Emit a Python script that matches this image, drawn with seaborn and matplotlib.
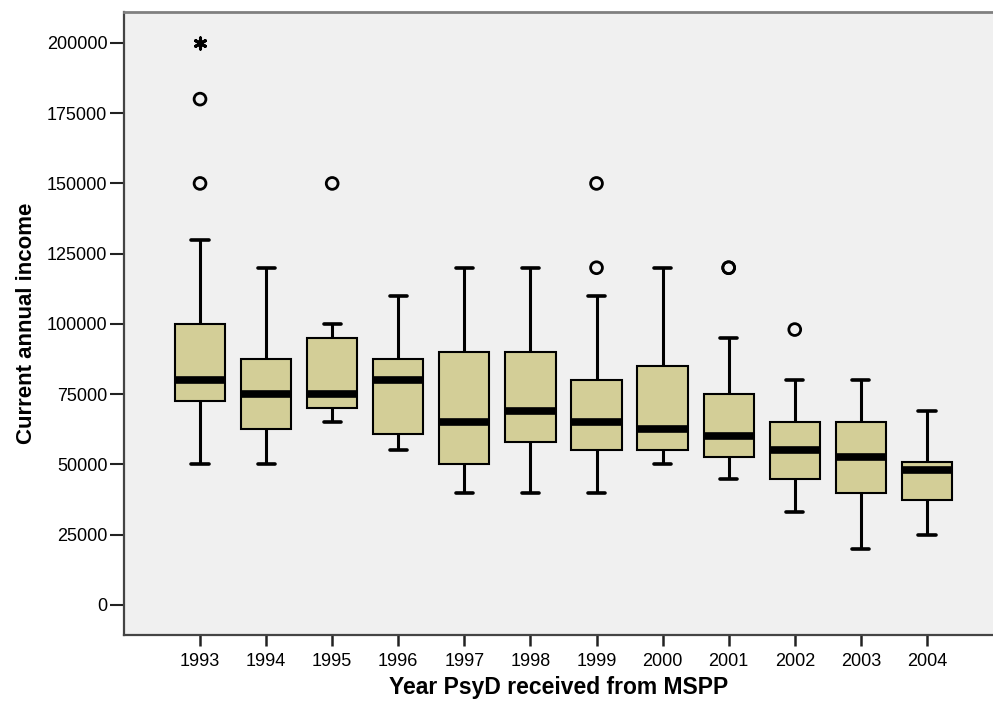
#!/usr/bin/env python3
# -*- coding: utf-8 -*-

"""
SPSS-style boxplot of current annual income by year the PsyD was received
"""

import matplotlib
matplotlib.use("Agg")
import matplotlib.pyplot as plt
import pandas as pd
import seaborn as sns

# five-number summaries, one entry per year
years = ["1993", "1994", "1995", "1996", "1997", "1998",
         "1999", "2000", "2001", "2002", "2003", "2004"]
whisker_low = [50000, 50000, 65000, 55000, 40000, 40000,
               40000, 50000, 45000, 33000, 20000, 25000]
q1 = [72500, 62500, 70000, 61000, 50000, 58000,
      55000, 55000, 52500, 45000, 40000, 37500]
medians = [80000, 75000, 75000, 80000, 65000, 69000,
           65000, 62500, 60000, 55000, 52500, 48000]
q3 = [100000, 87500, 95000, 87500, 90000, 90000,
      80000, 85000, 75000, 65000, 65000, 51000]
whisker_high = [130000, 120000, 100000, 110000, 120000, 120000,
                110000, 120000, 95000, 80000, 80000, 69000]

# outliers (circles) and extreme values (stars)
outlier_years = ["1993", "1993", "1995", "1999", "1999", "2001", "2001", "2002"]
outlier_values = [150000, 180000, 150000, 120000, 150000, 120000, 120000, 98000]
extreme_years = ["1993"]
extreme_values = [200000]

box_fill = "#D3CE97"
panel_bg = "#F0F0F0"

# long table: the five summary values per year reproduce the quartiles exactly
rows = []
for i, yr in enumerate(years):
    for v in (whisker_low[i], q1[i], medians[i], q3[i], whisker_high[i]):
        rows.append({"year": yr, "income": v})
df = pd.DataFrame(rows)

sns.set_style("white", {"axes.facecolor": panel_bg})
plt.rcParams["font.family"] = ["Liberation Sans", "DejaVu Sans"]
plt.rcParams["text.color"] = "black"
plt.rcParams["axes.labelcolor"] = "black"
plt.rcParams["xtick.labelcolor"] = "black"
plt.rcParams["ytick.labelcolor"] = "black"

fig = plt.figure(figsize=(9.93, 7.02), dpi=100)
ax = fig.add_axes([0.1249, 0.0954, 0.8751, 0.8875])

sns.boxplot(data=df, x="year", y="income", order=years, whis=(0, 100),
            color=box_fill, linecolor="black", linewidth=1.5, width=0.76,
            saturation=1, capwidths=0.26,
            medianprops=dict(linewidth=5.5, color="black", solid_capstyle="butt"),
            whiskerprops=dict(linewidth=2.2, color="black"),
            capprops=dict(linewidth=2.6, color="black"),
            ax=ax)

# hollow circles for outliers
n_before = len(ax.collections)
sns.stripplot(x=outlier_years, y=outlier_values, order=years, jitter=False,
              color="black", marker="o", size=8.5, linewidth=2,
              edgecolor="black", ax=ax)
for coll in ax.collections[n_before:]:
    coll.set_facecolor("none")
    coll.set_edgecolor("black")

# asterisk for extreme values
sns.stripplot(x=extreme_years, y=extreme_values, order=years, jitter=False,
              color="black", marker=(6, 2, 0), size=8, linewidth=2.2,
              edgecolor="black", ax=ax)

ax.set_xlim(-1.15, 12.0)
ax.set_ylim(-10700, 211000)
ax.set_yticks([0, 25000, 50000, 75000, 100000, 125000, 150000, 175000, 200000])
ax.set_yticklabels(["0", "25000", "50000", "75000", "100000", "125000",
                    "150000", "175000", "200000"])

ax.set_xlabel("Year PsyD received from MSPP", fontsize=16.5, fontweight="bold",
              labelpad=4)
ax.set_ylabel("Current annual income", fontsize=16, fontweight="bold",
              labelpad=7)

ax.tick_params(axis="y", direction="out", length=10, width=1.5,
               color="#222222", labelsize=13, pad=2, left=True)
ax.tick_params(axis="x", direction="out", length=8, width=1.8,
               color="#222222", labelsize=13, pad=5, bottom=True)

for side in ("left", "bottom"):
    ax.spines[side].set_color("#444444")
    ax.spines[side].set_linewidth(1.6)
ax.spines["top"].set_color("#808080")
ax.spines["top"].set_linewidth(2)
ax.spines["right"].set_visible(False)

fig.savefig("out.png", dpi=100, facecolor="white")
